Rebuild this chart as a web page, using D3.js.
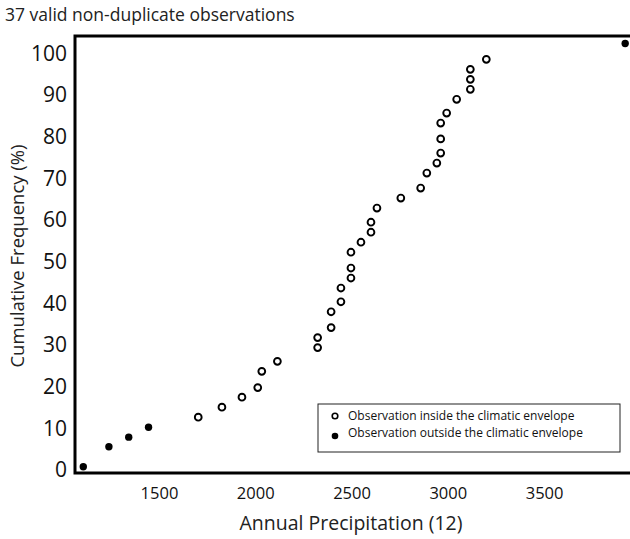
<!DOCTYPE html>
<html>
<head>
<meta charset="utf-8">
<script src="https://cdn.jsdelivr.net/npm/d3@7"></script>
<style>
  html, body { margin: 0; padding: 0; background: #fff; }
  svg { display: block; font-family: "Open Sans", "Noto Sans", sans-serif; }
</style>
</head>
<body>
<svg id="chart" width="630" height="539"></svg>
<script>
// Data
const insidePrecip = [1704, 1827, 1931, 2013, 2034, 2115, 2324, 2324, 2394, 2394, 2445, 2445, 2497, 2497, 2497, 2549, 2601, 2601, 2632, 2756, 2859, 2891, 2943, 2963, 2963, 2963, 2994, 3046, 3117, 3117, 3117, 3200];
const insideFreq   = [12.7, 15.1, 17.5, 19.8, 23.7, 26.1, 29.4, 31.8, 34.2, 38.0, 40.4, 43.7, 46.1, 48.5, 52.3, 54.7, 57.1, 59.5, 62.9, 65.3, 67.7, 71.3, 73.7, 76.1, 79.5, 83.3, 85.7, 89.0, 91.4, 93.8, 96.2, 98.6];
const outsidePrecip = [1107, 1240, 1343, 1446, 3921];
const outsideFreq   = [0.8, 5.6, 7.9, 10.3, 102.4];
const xTicks = [1500, 2000, 2500, 3000, 3500];
const yTicks = [0, 10, 20, 30, 40, 50, 60, 70, 80, 90, 100];
const titleText = "37 valid non-duplicate observations";
const xTitle = "Annual Precipitation (12)";
const yTitle = "Cumulative Frequency (%)";
const legendLabels = ["Observation inside the climatic envelope", "Observation outside the climatic envelope"];

const svg = d3.select("#chart");
const mLeft = 75, mTop = 36, mBottom = 473, mRight = 640;

const x = d3.scaleLinear().domain([1064, 3998]).range([mLeft, mRight]);
const y = d3.scaleLinear().domain([-0.7, 104.2]).range([mBottom, mTop]);

// Title
svg.append("text").attr("x", 5).attr("y", 21)
  .attr("font-size", 17.5).attr("fill", "#222").text(titleText);

// Frame
svg.append("path")
  .attr("d", `M${mRight},${mTop}H${mLeft}V${mBottom}H${mRight}`)
  .attr("fill", "none").attr("stroke", "#000").attr("stroke-width", 3);

// Axes (labels only)
const yAxis = d3.axisLeft(y).tickValues(yTicks).tickSize(0).tickPadding(8);
const gy = svg.append("g").attr("transform", `translate(${mLeft},0)`).call(yAxis);
gy.select(".domain").remove();
gy.selectAll("text").attr("font-size", 21).attr("fill", "#111")
  .attr("font-family", "'Open Sans', sans-serif");

const xAxis = d3.axisBottom(x).tickValues(xTicks).tickFormat(d3.format("d"))
  .tickSize(0).tickPadding(14);
const gx = svg.append("g").attr("transform", `translate(0,${mBottom})`).call(xAxis);
gx.select(".domain").remove();
gx.selectAll("text").attr("font-size", 16.5).attr("fill", "#111")
  .attr("font-family", "'Open Sans', sans-serif");

// Axis titles
svg.append("text").attr("x", 351).attr("y", 530).attr("text-anchor", "middle")
  .attr("font-size", 19.5).attr("fill", "#222").text(xTitle);
svg.append("text").attr("transform", "translate(24,256) rotate(-90)")
  .attr("text-anchor", "middle").attr("font-size", 18.5).attr("fill", "#222").text(yTitle);

// Points
const inside = insidePrecip.map((v, i) => ({x: v, y: insideFreq[i]}));
const outside = outsidePrecip.map((v, i) => ({x: v, y: outsideFreq[i]}));

svg.append("g").selectAll("circle").data(inside).join("circle")
  .attr("cx", d => x(d.x)).attr("cy", d => y(d.y)).attr("r", 3.4)
  .attr("fill", "#fff").attr("stroke", "#000").attr("stroke-width", 1.9);

svg.append("g").selectAll("circle").data(outside).join("circle")
  .attr("cx", d => x(d.x)).attr("cy", d => y(d.y)).attr("r", 3.7)
  .attr("fill", "#000");

// Legend
const lg = svg.append("g");
lg.append("rect").attr("x", 318).attr("y", 404).attr("width", 302).attr("height", 48)
  .attr("fill", "#fff").attr("stroke", "#222").attr("stroke-width", 1);
lg.append("circle").attr("cx", 335).attr("cy", 416).attr("r", 2.8)
  .attr("fill", "#fff").attr("stroke", "#000").attr("stroke-width", 1.6);
lg.append("circle").attr("cx", 335).attr("cy", 436).attr("r", 3.3).attr("fill", "#000");
lg.selectAll("text.lab").data(legendLabels).join("text").attr("class", "lab")
  .attr("x", 348).attr("y", (d, i) => 420 + i * 17)
  .attr("font-size", 12).attr("fill", "#111").text(d => d);
</script>
</body>
</html>
